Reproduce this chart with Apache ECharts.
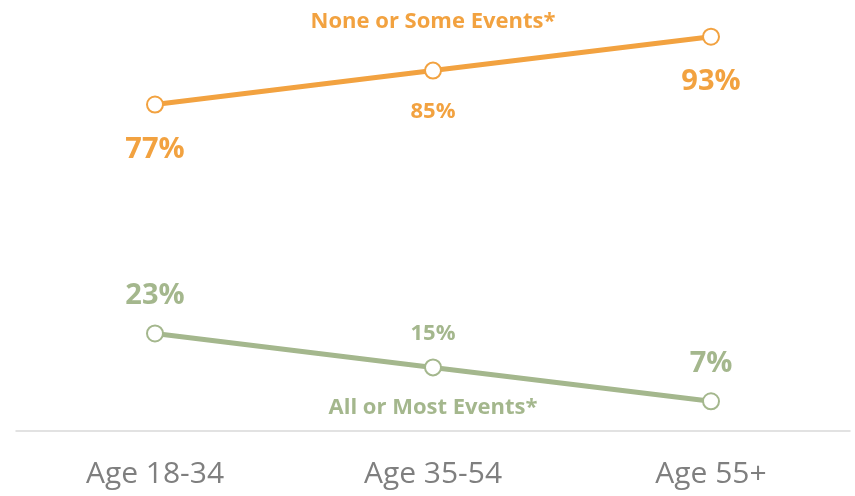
<!DOCTYPE html>
<html><head><meta charset="utf-8">
<script src="https://cdn.jsdelivr.net/npm/echarts@6/dist/echarts.min.js"></script>
<style>html,body{margin:0;padding:0;background:#fff}#c{width:855px;height:496px}</style>
</head><body><div id="c"></div>
<script>
const categories = ['Age 18-34', 'Age 35-54', 'Age 55+'];
const noneOrSome = [77, 85, 93];
const allOrMost = [23, 15, 7];
const seriesNames = ['None or Some Events*', 'All or Most Events*'];
const orange = '#F2A240';
const green = '#A4B78D';
const FONT = '"Open Sans", sans-serif';

function big(i){ return i !== 1; }

function makeData(vals, below) {
  return vals.map((v, i) => ({
    value: v,
    label: {
      show: true,
      position: 'inside',
      offset: [0, below ? (big(i) ? 45 : 41) : (big(i) ? -38 : -34)],
      fontSize: big(i) ? 29 : 22,
      fontWeight: 'bold'
    }
  }));
}

const chart = echarts.init(document.getElementById('c'));
chart.setOption({
  animation: false,
  grid: { left: 16, right: 5, top: 7, bottom: 65 },
  xAxis: {
    type: 'category',
    data: categories,
    boundaryGap: true,
    axisLine: { lineStyle: { color: '#D9D9D9', width: 1.5 } },
    axisTick: { show: false },
    axisLabel: { color: '#7F7F7F', fontSize: 30, fontFamily: FONT, margin: 28 }
  },
  yAxis: { type: 'value', min: 0, max: 100, show: false, splitLine: { show: false } },
  series: [
    {
      name: seriesNames[0], type: 'line', data: makeData(noneOrSome, true),
      lineStyle: { color: orange, width: 5 },
      itemStyle: { color: '#fff', borderColor: orange, borderWidth: 2 },
      symbol: 'circle', symbolSize: 16,
      label: { color: orange, fontFamily: FONT, formatter: '{c}%' },
      markPoint: {
        symbol: 'circle', symbolSize: 0,
        data: [{ coord: [categories[1], noneOrSome[1]], value: seriesNames[0] }],
        label: { show: true, position: 'inside', offset: [0, -49], formatter: seriesNames[0],
          color: orange, fontFamily: FONT, fontSize: 22, fontWeight: 'bold' }
      },
      z: 3
    },
    {
      name: seriesNames[1], type: 'line', data: makeData(allOrMost, false),
      lineStyle: { color: green, width: 5 },
      itemStyle: { color: '#fff', borderColor: green, borderWidth: 2 },
      symbol: 'circle', symbolSize: 16,
      label: { color: green, fontFamily: FONT, formatter: '{c}%' },
      markPoint: {
        symbol: 'circle', symbolSize: 0,
        data: [{ coord: [categories[1], allOrMost[1]], value: seriesNames[1] }],
        label: { show: true, position: 'inside', offset: [0, 40], formatter: seriesNames[1],
          color: green, fontFamily: FONT, fontSize: 22, fontWeight: 'bold' }
      },
      z: 3
    }
  ]
});
</script></body></html>
